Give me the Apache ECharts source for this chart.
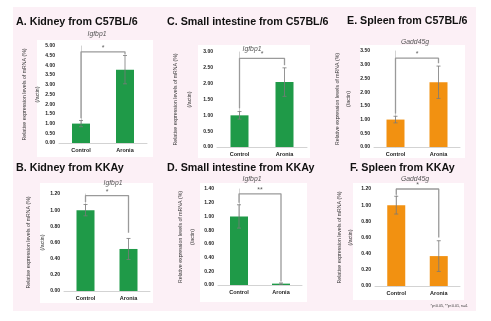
<!DOCTYPE html>
<html>
<head>
<meta charset="utf-8">
<script src="https://cdn.jsdelivr.net/npm/echarts@6/dist/echarts.min.js"></script>
<style>
  html, body { margin: 0; padding: 0; background: #ffffff; }
  #chart { width: 491px; height: 321px; }
</style>
</head>
<body>
<div id="chart"></div>
<script>
// ---- data ----
const categories = ['Control', 'Aronia'];
const panelTitles = [
  'A. Kidney from C57BL/6',
  'B. Kidney from KKAy',
  'C. Small intestine from C57BL/6',
  'D. Small intestine from KKAy',
  'E. Spleen from C57BL/6',
  'F. Spleen from KKAy'
];
const geneNames = ['Igfbp1', 'Igfbp1', 'Igfbp1', 'Igfbp1', 'Gadd45g', 'Gadd45g'];

// relative mRNA expression (mean) and error (+/-)
const kidneyB6Mean = [1.00, 3.78];
const kidneyB6Err = [0.16, 0.73];
const kidneyKKAyMean = [1.00, 0.52];
const kidneyKKAyErr = [0.07, 0.13];
const intestineB6Mean = [1.00, 2.05];
const intestineB6Err = [0.12, 0.45];
const intestineKKAyMean = [1.00, 0.02];
const intestineKKAyErr = [0.17, 0.01];
const spleenB6Mean = [1.00, 2.36];
const spleenB6Err = [0.12, 0.59];
const spleenKKAyMean = [1.00, 0.37];
const spleenKKAyErr = [0.11, 0.19];

// y axis ranges / tick steps
const yMax = [5.0, 1.2, 3.0, 1.4, 3.5, 1.2];
const yStep = [0.5, 0.2, 0.5, 0.2, 0.5, 0.2];

// significance brackets (values on the y scale)
const bracketTop = [4.70, 1.18, 2.80, 1.33, 3.24, 1.20];
const bracketLeftFoot = [1.28, 1.10, 1.22, 1.20, 1.22, 1.13];
const bracketRightFoot = [4.56, 0.72, 2.58, 0.05, 3.05, 0.60];
const stars = ['*', '*', '*', '**', '*', '*'];

const footnote = '*p<0.05, **p<0.01, n=4.';
const yTitleMain = 'Relative expression levels of mRNA (%)';
const yTitleSub = '(/actin)';

const means = [kidneyB6Mean, kidneyKKAyMean, intestineB6Mean, intestineKKAyMean, spleenB6Mean, spleenKKAyMean];
const errs = [kidneyB6Err, kidneyKKAyErr, intestineB6Err, intestineKKAyErr, spleenB6Err, spleenKKAyErr];

// ---- layout ----
const GREEN = '#1f9a48';
const ORANGE = '#f29111';
const barColors = [GREEN, GREEN, GREEN, GREEN, ORANGE, ORANGE];
const FONT = '"Liberation Sans", Arial, Helvetica, sans-serif';

const grids = [
  { left: 59, top: 46, width: 88, height: 97 },
  { left: 64, top: 194, width: 86, height: 97 },
  { left: 217, top: 52, width: 90, height: 95 },
  { left: 218, top: 189, width: 84, height: 96 },
  { left: 374, top: 51, width: 86, height: 96 },
  { left: 375, top: 189, width: 85, height: 97 }
];
const boxes = [
  [37, 40, 116, 117],
  [40, 183, 113, 120],
  [198, 45, 112, 113],
  [200, 183, 107, 119],
  [360, 45, 105, 113],
  [353, 183, 111, 117]
];
const titlePos = [[16, 22], [16, 168], [167, 22], [167, 168], [347, 21], [350, 168]];
const genePos = [[97, 34], [113, 183], [252, 49], [252, 179], [415, 42], [415, 179]];
const yTitleX = [[25, 38], [29, 43], [176, 190], [181, 193], [338, 349], [340, 351]];

// error bar glyph: vertical whisker with small caps
function errorBarItem(params, api) {
  const x = api.value(0);
  const lo = api.coord([x, api.value(1)]);
  const hi = api.coord([x, api.value(2)]);
  const w = 2;
  const st = { stroke: '#7a7a7a', lineWidth: 0.8 };
  return {
    type: 'group',
    children: [
      { type: 'line', shape: { x1: hi[0], y1: hi[1], x2: lo[0], y2: lo[1] }, style: st },
      { type: 'line', shape: { x1: hi[0] - w, y1: hi[1], x2: hi[0] + w, y2: hi[1] }, style: st },
      { type: 'line', shape: { x1: lo[0] - w, y1: lo[1], x2: lo[0] + w, y2: lo[1] }, style: st }
    ]
  };
}

const xAxes = [], yAxes = [], series = [], graphics = [];

graphics.push({
  type: 'rect', shape: { x: 13, y: 7, width: 463, height: 304 },
  style: { fill: '#fcf0f6' }, silent: true
});
boxes.forEach(b => graphics.push({
  type: 'rect', shape: { x: b[0], y: b[1], width: b[2], height: b[3] },
  style: { fill: '#ffffff' }, silent: true
}));

grids.forEach((g, i) => {
  // visible category axis
  xAxes.push({
    type: 'category', gridIndex: i, data: categories,
    axisLine: { show: true, lineStyle: { color: '#c8c8c8', width: 0.8 } },
    axisTick: { show: false },
    axisLabel: { fontSize: 5.5, fontWeight: 'bold', color: '#222', margin: 4, fontFamily: FONT }
  });
  // hidden value axis for the bracket
  xAxes.push({ type: 'value', gridIndex: i, min: -0.5, max: 1.5, show: false });
  yAxes.push({
    type: 'value', gridIndex: i, min: 0, max: yMax[i], interval: yStep[i],
    axisLine: { show: true, lineStyle: { color: '#c8c8c8', width: 0.8 } },
    axisTick: { show: false },
    splitLine: { show: false },
    axisLabel: {
      fontSize: 5, fontWeight: 'bold', color: '#222', margin: 4, fontFamily: FONT,
      formatter: v => v.toFixed(2)
    }
  });

  series.push({
    type: 'bar', xAxisIndex: 2 * i, yAxisIndex: i,
    data: means[i], barWidth: 18,
    itemStyle: { color: barColors[i] }
  });
  series.push({
    type: 'custom', xAxisIndex: 2 * i, yAxisIndex: i,
    renderItem: errorBarItem,
    encode: { x: 0, y: [1, 2] },
    data: means[i].map((m, k) => [k, m - errs[i][k], m + errs[i][k]]),
    z: 3, clip: false
  });
  series.push({
    type: 'line', xAxisIndex: 2 * i + 1, yAxisIndex: i,
    data: [[0, bracketLeftFoot[i]], [0, bracketTop[i]], [1, bracketTop[i]], [1, bracketRightFoot[i]]],
    symbol: 'none', clip: false, z: 4,
    lineStyle: { color: '#9a9a9a', width: 1.3 }
  });
  series.push({
    type: 'scatter', xAxisIndex: 2 * i + 1, yAxisIndex: i,
    data: [[0.5, bracketTop[i]]], symbolSize: 1, clip: false, z: 5,
    itemStyle: { color: 'rgba(0,0,0,0)' },
    label: {
      show: true, position: 'top', distance: 0, formatter: stars[i],
      fontSize: 7, color: '#333', fontFamily: FONT
    }
  });

  graphics.push({
    type: 'text', x: titlePos[i][0], y: titlePos[i][1],
    style: {
      text: panelTitles[i], font: 'bold 10.7px ' + FONT, fill: '#111',
      textAlign: 'left', textVerticalAlign: 'middle'
    }, z: 10
  });
  graphics.push({
    type: 'text', x: genePos[i][0], y: genePos[i][1],
    style: {
      text: geneNames[i], font: 'italic 6.8px ' + FONT, fill: '#555',
      textAlign: 'center', textVerticalAlign: 'middle'
    }, z: 10
  });
  const cy = g.top + g.height / 2;
  graphics.push({
    type: 'text', x: yTitleX[i][0], y: cy, rotation: Math.PI / 2,
    style: {
      text: yTitleMain, font: '5.2px ' + FONT, fill: '#333',
      textAlign: 'center', textVerticalAlign: 'middle'
    }, z: 10
  });
  graphics.push({
    type: 'text', x: yTitleX[i][1], y: cy, rotation: Math.PI / 2,
    style: {
      text: yTitleSub, font: '5.2px ' + FONT, fill: '#333',
      textAlign: 'center', textVerticalAlign: 'middle'
    }, z: 10
  });
});

graphics.push({
  type: 'text', x: 468, y: 306,
  style: { text: footnote, font: '3.6px ' + FONT, fill: '#333', textAlign: 'right', textVerticalAlign: 'middle' },
  z: 10
});

const chart = echarts.init(document.getElementById('chart'), null, { renderer: 'canvas' });
chart.setOption({
  animation: false,
  backgroundColor: '#ffffff',
  grid: grids,
  xAxis: xAxes,
  yAxis: yAxes,
  series: series,
  graphic: { elements: graphics }
});
</script>
</body>
</html>
